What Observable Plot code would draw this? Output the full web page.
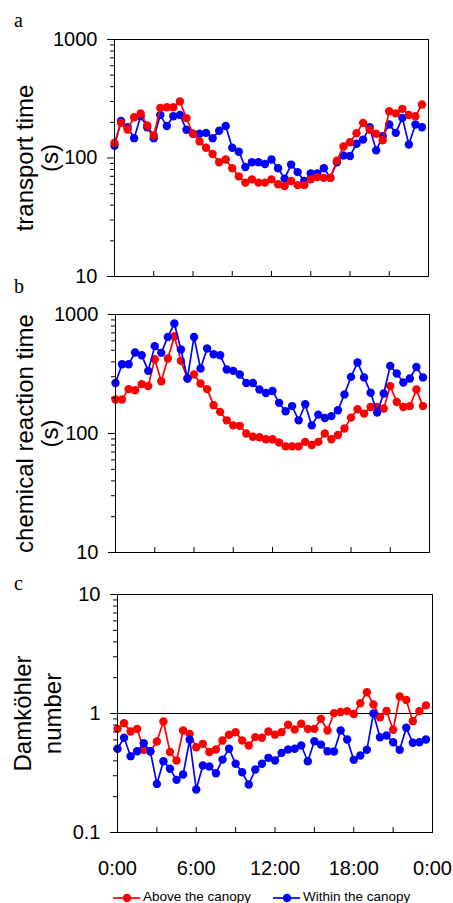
<!DOCTYPE html>
<html><head><meta charset="utf-8">
<script src="https://cdn.jsdelivr.net/npm/d3@7"></script>
<script src="https://cdn.jsdelivr.net/npm/@observablehq/plot@0.6"></script>
<style>
body{margin:0;background:#fff;}
#root{position:relative;width:453px;height:903px;overflow:hidden;font-family:"Liberation Sans",Arial,sans-serif;}
.panel{position:absolute;left:0;}
.letter{position:absolute;left:14px;font-family:"Liberation Serif","Times New Roman",serif;font-size:20px;line-height:20px;color:#000;}
.lg{position:absolute;font-size:13.5px;line-height:16px;color:#000;white-space:nowrap;}
.mk{position:absolute;}
</style></head><body><div id="root"></div>
<script>
const hours = [0,0.5,1,1.5,2,2.5,3,3.5,4,4.5,5,5.5,6,6.5,7,7.5,8,8.5,9,9.5,10,10.5,11,11.5,12,12.5,13,13.5,14,14.5,15,15.5,16,16.5,17,17.5,18,18.5,19,19.5,20,20.5,21,21.5,22,22.5,23,23.5];

const transportAbove = [134,198,174,221,238,188,155,265,268,268,300,217,160,138,122,108,92,97,82,70,62,66,62,62,66,60,58,64,59,59,66,69,68,68,95,125,136,162,198,173,160,141,248,238,260,231,225,283];
const transportWithin = [127,205,182,147,225,182,147,231,186,225,231,173,160,160,163,147,170,186,122,113,84,92,92,89,97,82,67,88,76,64,74,74,82,68,92,105,104,132,143,182,116,153,192,163,218,130,192,182];

const chemAbove = [193,193,236,231,260,251,421,275,427,657,408,290,313,263,236,173,152,129,117,116,100,94,93,89.5,89.5,84,78,78,78,85,80,85,100,89.5,97,110,136,160,147,167,167,162,250,184,167,170,234,170];
const chemWithin = [266,382,382,479,455,336,542,476,648,840,508,290,648,352,518,464,455,345,336,313,266,266,234,219,228,181,154,170,129,176,117,144,135,140,157,213,299,395,296,220,150,217,370,319,268,290,362,296];

const damAbove = [0.743,0.83,0.706,0.743,0.495,0.48,0.582,0.857,0.475,0.403,0.72,0.674,0.521,0.556,0.475,0.498,0.593,0.662,0.697,0.593,0.538,0.633,0.625,0.706,0.664,0.697,0.804,0.735,0.82,0.743,0.743,0.902,0.72,1.007,1.03,1.047,0.99,1.22,1.51,1.19,0.93,1.05,0.73,1.39,1.30,0.862,1.047,1.17];
const damWithin = [0.505,0.625,0.438,0.482,0.562,0.482,0.256,0.397,0.343,0.277,0.307,0.601,0.23,0.366,0.359,0.315,0.41,0.505,0.378,0.321,0.253,0.338,0.378,0.424,0.403,0.467,0.498,0.505,0.538,0.397,0.585,0.548,0.482,0.48,0.72,0.605,0.408,0.444,0.495,1.0,0.632,0.653,0.574,0.495,0.758,0.567,0.574,0.605];

const xTickValues = [0,3,6,9,12,15,18,21,24];
const xLabelValues = [0,6,12,18,24];
const xTickLabels = ["0:00","6:00","12:00","18:00","0:00"];

const majorsTime = [10,100,1000];
const minorsTime = [20,30,40,50,60,70,80,90,200,300,400,500,600,700,800,900];
const majorsDam = [0.1,1,10];
const minorsDam = [0.2,0.3,0.4,0.5,0.6,0.7,0.8,0.9,2,3,4,5,6,7,8,9];
const labelsTime = ["10","100","1000"];
const labelsDam = ["0.1","1","10"];

const seriesNames = ["Above the canopy","Within the canopy"];
const colors = ["#ff0000","#0000ff"];

const root = document.getElementById("root");

function makePanel(o){
  const frameH = o.height - o.mt - o.mb;
  const sets = [
    {vals:o.red, color:colors[0]},
    {vals:o.blue, color:colors[1]}
  ];
  const order = o.redOnTop ? [sets[1], sets[0]] : [sets[0], sets[1]];
  const marks = [];
  if (o.rule) marks.push(Plot.ruleY([1], {stroke:"#000", strokeWidth:1}));
  for (const s of order){
    const data = hours.map((h,i)=>({h, v:s.vals[i]}));
    marks.push(Plot.line(data, {x:"h", y:"v", stroke:s.color, strokeWidth:1.7}));
    marks.push(Plot.dot(data, {x:"h", y:"v", r:4.2, fill:s.color, stroke:"none"}));
  }
  marks.push(Plot.frame({stroke:"#000", strokeWidth:1}));
  marks.push(Plot.axisY({ticks:o.minors, tickSize:4, tickFormat:()=>"", label:null}));
  marks.push(Plot.axisY({ticks:o.majors, tickSize:7, tickPadding:10, tickFormat:d=>o.labels[o.majors.indexOf(d)], label:null}));
  marks.push(Plot.ruleX(xTickValues, {x:d=>d, insetTop:frameH-5, stroke:"#000"}));
  if (o.xlabels) marks.push(Plot.axisX({ticks:xLabelValues, tickSize:0, tickPadding:28, tickFormat:d=>xTickLabels[xLabelValues.indexOf(d)], label:null}));
  o.titles.forEach((t)=>{
    marks.push(Plot.text([t.text], {text:d=>d, frameAnchor:"left", textAnchor:"middle", lineAnchor:"middle", dx:t.x - o.ml, rotate:-90, fontSize:24}));
  });
  const chart = Plot.plot({
    width:453, height:o.height,
    marginTop:o.mt, marginBottom:o.mb, marginLeft:o.ml, marginRight:o.mr,
    style:{fontFamily:'"Liberation Sans", Arial, sans-serif', fontSize:"20px", color:"#000", background:"transparent", overflow:"visible"},
    x:{domain:[0,24], axis: o.xlabels ? undefined : null},
    y:{type:"log", domain:o.domain},
    marks
  });
  chart.classList.add("panel");
  chart.style.top = o.top + "px";
  root.appendChild(chart);
}

makePanel({top:0, height:285, mt:39, mb:9, ml:114, mr:25, domain:[10,1000], majors:majorsTime, minors:minorsTime, labels:labelsTime,
  red:transportAbove, blue:transportWithin, redOnTop:true,
  titles:[{text:"transport time", x:25},{text:"(s)", x:50}]});
makePanel({top:285, height:275, mt:29, mb:8, ml:115, mr:24, domain:[10,1000], majors:majorsTime, minors:minorsTime, labels:labelsTime,
  red:chemAbove, blue:chemWithin, redOnTop:false,
  titles:[{text:"chemical reaction time", x:25},{text:"(s)", x:50}]});
makePanel({top:560, height:330, mt:34, mb:58, ml:117, mr:21, domain:[0.1,10], majors:majorsDam, minors:minorsDam, labels:labelsDam,
  red:damAbove, blue:damWithin, redOnTop:false, rule:true, xlabels:true,
  titles:[{text:"Damköhler", x:23},{text:"number", x:53}]});

// panel letters
[["a",10],["b",276],["c",573]].forEach(([t,top])=>{
  const d = document.createElement("div");
  d.className = "letter"; d.textContent = t; d.style.top = top + "px";
  root.appendChild(d);
});

// legend
const legendX = [113, 273];
seriesNames.forEach((name, k)=>{
  const svgNS = "http://www.w3.org/2000/svg";
  const s = document.createElementNS(svgNS, "svg");
  s.setAttribute("width", 28); s.setAttribute("height", 12);
  s.setAttribute("class","mk");
  s.style.left = legendX[k] + "px"; s.style.top = "892px";
  const l = document.createElementNS(svgNS, "line");
  l.setAttribute("x1",0); l.setAttribute("x2",27); l.setAttribute("y1",6); l.setAttribute("y2",6);
  l.setAttribute("stroke", colors[k]); l.setAttribute("stroke-width", 1.7);
  const c = document.createElementNS(svgNS, "circle");
  c.setAttribute("cx",14); c.setAttribute("cy",6); c.setAttribute("r",4.2); c.setAttribute("fill", colors[k]);
  s.appendChild(l); s.appendChild(c);
  root.appendChild(s);
  const t = document.createElement("div");
  t.className = "lg"; t.textContent = name;
  t.style.left = (legendX[k] + 30) + "px"; t.style.top = "889px";
  root.appendChild(t);
});
</script>
</body></html>
